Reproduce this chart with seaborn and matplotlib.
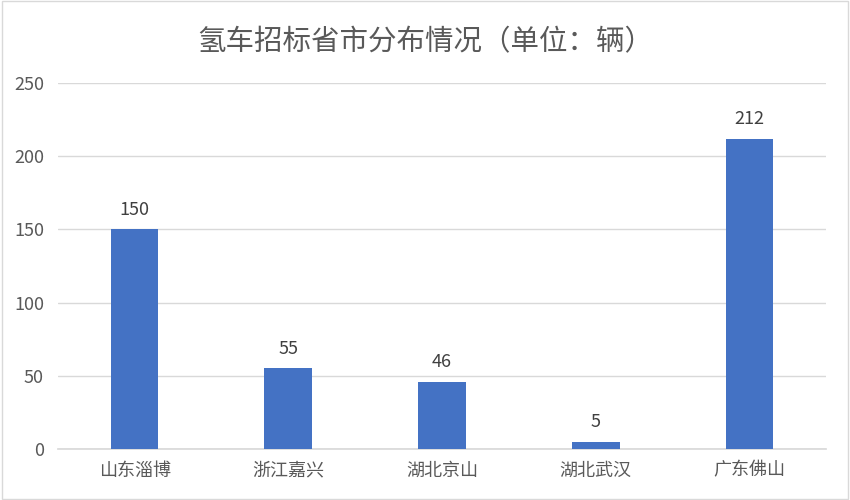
import matplotlib
matplotlib.use("Agg")
import matplotlib.pyplot as plt
import seaborn as sns
import pandas as pd

# data
cities = ["山东淄博", "浙江嘉兴", "湖北京山", "湖北武汉", "广东佛山"]
vehicles = [150, 55, 46, 5, 212]
y_ticks = [0, 50, 100, 150, 200, 250]

sns.set_theme(style="white")
plt.rcParams["font.family"] = ["Noto Sans CJK SC", "DejaVu Sans"]

df = pd.DataFrame({"city": cities, "count": vehicles})

fig = plt.figure(figsize=(8.5, 5), dpi=100)
ax = fig.add_axes([0.068, 0.102, 0.904, 0.732])

sns.barplot(data=df, x="city", y="count", color="#4472C4", width=0.31,
            saturation=1, linewidth=0, ax=ax, zorder=3)

for i, v in enumerate(vehicles):
    ax.text(i, v + 7, str(v), ha="center", va="bottom", fontsize=13, color="#404040")

ax.set_xlim(-0.5, len(cities) - 0.5)
ax.set_ylim(0, 250)
ax.set_yticks(y_ticks)
ax.grid(axis="y", color="#D9D9D9", linewidth=1, zorder=0)
ax.set_xlabel("")
ax.set_ylabel("")
ax.tick_params(axis="both", length=0, labelsize=13, labelcolor="#595959")
ax.tick_params(axis="x", pad=9)
ax.tick_params(axis="y", pad=10)
for s in ["top", "right", "left"]:
    ax.spines[s].set_visible(False)
ax.spines["bottom"].set_color("#D9D9D9")

fig.text(0.5, 0.915, "氢车招标省市分布情况（单位：辆）", ha="center", va="center",
         fontsize=20.5, color="#595959")

# light outer frame like the spreadsheet chart
fig.patches.append(plt.Rectangle((0.002, 0.002), 0.996, 0.996, transform=fig.transFigure,
                                 fill=False, edgecolor="#D9D9D9", linewidth=1))

fig.savefig("out.png", dpi=100)
